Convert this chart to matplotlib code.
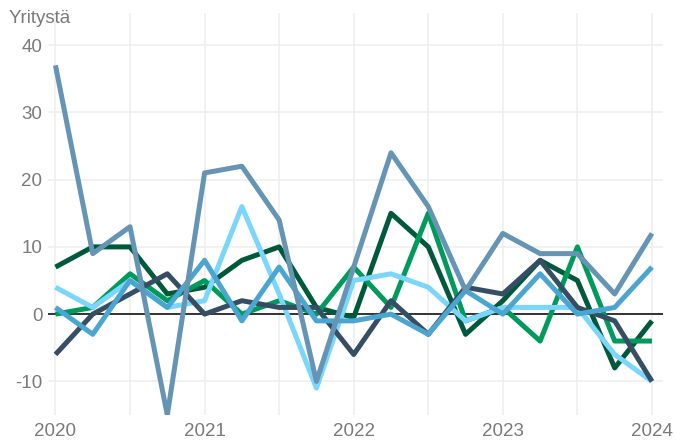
import matplotlib
matplotlib.use("Agg")
from matplotlib import pyplot as plt
import numpy as np

plt.rcParams['font.family'] = ['Liberation Sans', 'DejaVu Sans']

# quarters 2020Q1 .. 2024Q1
quarters = np.arange(17)
year_labels = ['2020', '2021', '2022', '2023', '2024']

s_a = [7, 10, 10, 3, 4, 8, 10, 1, -0.5, 15, 10, -3, 2, 8, 5, -8, -1]
s_b = [0, 1, 6, 2, 5, 0, 2, 0, 7, 1, 15, -1, 1, -4, 10, -4, -4]
s_c = [4, 1, 5, 1, 2, 16, 3, -11, 5, 6, 4, -1, 1, 1, 1, -6, -10]
s_d = [-6, 0, 3, 6, 0, 2, 1, 1, -6, 2, -3, 4, 3, 8, 1, -1, -10]
s_e = [1, -3, 5, 1, 8, -1, 7, -1, -1, 0, -3, 3.5, 0, 6, 0, 1, 7]
s_f = [37, 9, 13, -15, 21, 22, 14, -10, 7, 24, 16, 3.5, 12, 9, 9, 3, 12]

series = [s_a, s_b, s_c, s_d, s_e, s_f]
colors = ['#00593A', '#009B5C', '#7AD6FA', '#364E64', '#4AA6D0', '#6594B5']

fig = plt.figure(figsize=(6.76, 4.45), dpi=100)
ax = fig.add_axes([0.071, 0.0674, 0.91, 0.9036])

grey = '#7a7a7a'
ax.set_xlim(-0.2, 16.3)
ax.set_ylim(-15, 44.8)
ax.set_yticks([-10, 0, 10, 20, 30, 40])
ax.set_yticklabels(['-10', '0', '10', '20', '30', '40'])
ax.set_xticks([0, 4, 8, 12, 16])
ax.set_xticklabels(year_labels)
ax.set_xticks([2, 6, 10, 14], minor=True)
ax.grid(True, which='major', color='#EEEEEE', linewidth=1.1)
ax.grid(True, which='minor', axis='x', color='#EEEEEE', linewidth=1.1)
ax.set_axisbelow(True)
for sp in ax.spines.values():
    sp.set_visible(False)
ax.tick_params(which='both', length=0, labelsize=13.5, labelcolor=grey)
ax.tick_params(axis='x', pad=6)
ax.tick_params(axis='y', pad=4)

ax.axhline(0, color='black', linewidth=1.1, zorder=1)

for vals, c in zip(series, colors):
    ax.plot(quarters, vals, color=c, linewidth=3.6, solid_joinstyle='round',
            solid_capstyle='butt', zorder=2)

fig.text(0.012, 0.958, 'Yritystä', fontsize=13.5, color=grey, va='center', ha='left')

fig.savefig('out.png', dpi=100)
